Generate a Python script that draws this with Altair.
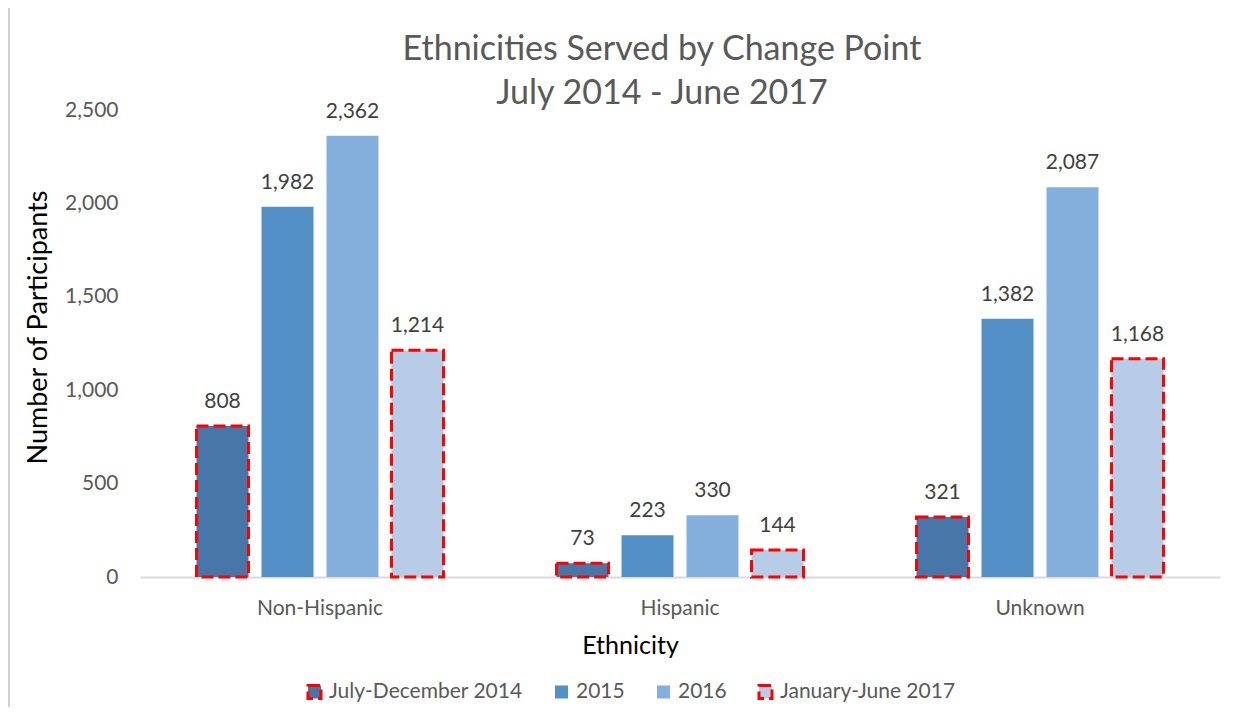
import altair as alt
import pandas as pd

categories = ["Non-Hispanic", "Hispanic", "Unknown"]
series = ["July-December 2014", "2015", "2016", "January-June 2017"]
values = {
    "July-December 2014": [808, 73, 321],
    "2015": [1982, 223, 1382],
    "2016": [2362, 330, 2087],
    "January-June 2017": [1214, 144, 1168],
}
colors = ["#4677A8", "#5390C8", "#84AFDC", "#B7CCE6"]
strokes = ["#FF0000", "rgba(0,0,0,0)", "rgba(0,0,0,0)", "#FF0000"]
dashes = [[12, 5], [1, 0], [1, 0], [12, 5]]
y_ticks = [0, 500, 1000, 1500, 2000, 2500]

rows = []
for s in series:
    for c, v in zip(categories, values[s]):
        rows.append({"Ethnicity": c, "Series": s, "Value": v})
df = pd.DataFrame(rows)

FONT = "Lato"

x = alt.X("Ethnicity:N", sort=categories,
          scale=alt.Scale(paddingInner=0.314, paddingOuter=0.157),
          axis=alt.Axis(title="Ethnicity", labelAngle=0, labelFontSize=21,
                        labelColor="#595959", labelPadding=20, ticks=False,
                        domainColor="#D9D9D9", domainWidth=2,
                        titleFontSize=25, titleColor="#000000", titleFontWeight="normal",
                        titleX=490, titleY=68, titleBaseline="middle", titleAlign="center"))
xo = alt.XOffset("Series:N", sort=series, scale=alt.Scale(paddingInner=0.2, paddingOuter=0))
y = alt.Y("Value:Q", scale=alt.Scale(domain=[0, 2500], nice=False),
          axis=alt.Axis(title="Number of Participants", values=y_ticks,
                        format=",.0f", grid=False, domain=False, ticks=False,
                        labelFontSize=21, labelColor="#595959", labelPadding=22,
                        titleFontSize=27, titleColor="#000000", titleFontWeight="normal",
                        titleX=-102, titleY=217, titleBaseline="middle", titleAlign="center"))

legend = alt.Legend(title=None, orient="none", direction="horizontal",
                    legendX=164, legendY=571, labelFontSize=21, labelColor="#595959",
                    labelLimit=500, symbolType="square", symbolSize=170, symbolStrokeWidth=3,
                    columnPadding=25, labelOffset=4)

bars = alt.Chart(df).mark_bar(strokeWidth=3).encode(
    x=x, xOffset=xo, y=y,
    color=alt.Color("Series:N", sort=series, scale=alt.Scale(domain=series, range=colors), legend=legend),
    stroke=alt.Stroke("Series:N", sort=series, scale=alt.Scale(domain=series, range=strokes), legend=legend),
    strokeDash=alt.StrokeDash("Series:N", sort=series, scale=alt.Scale(domain=series, range=dashes), legend=legend),
)

labels = alt.Chart(df).mark_text(fontSize=21, color="#404040", baseline="alphabetic", dy=-18, font=FONT).encode(
    x=alt.X("Ethnicity:N", sort=categories), xOffset=alt.XOffset("Series:N", sort=series),
    y=y, text=alt.Text("Value:Q", format=","),
)

frame = alt.Chart(pd.DataFrame({"a": [0]})).mark_rect(
    fill="transparent", stroke="#D0D0D0", strokeWidth=2, clip=False
).encode(x=alt.value(-131), x2=alt.value(1099), y=alt.value(-105), y2=alt.value(640))

chart = alt.layer(frame, bars, labels).properties(
    width=1080, height=467,
    autosize=alt.AutoSizeParams(type="none"),
    padding={"left": 132, "top": 102, "right": 16, "bottom": 130},
    title=alt.Title(["Ethnicities Served by Change Point", "July 2014 - June 2017"],
                    fontSize=34, color="#595959", fontWeight="normal", font=FONT,
                    lineHeight=44, anchor="middle", frame="group", dx=-18, offset=-107),
).configure(font=FONT).configure_view(stroke=None)

chart.save("out.html", embed_options={"renderer": "svg", "actions": False})
